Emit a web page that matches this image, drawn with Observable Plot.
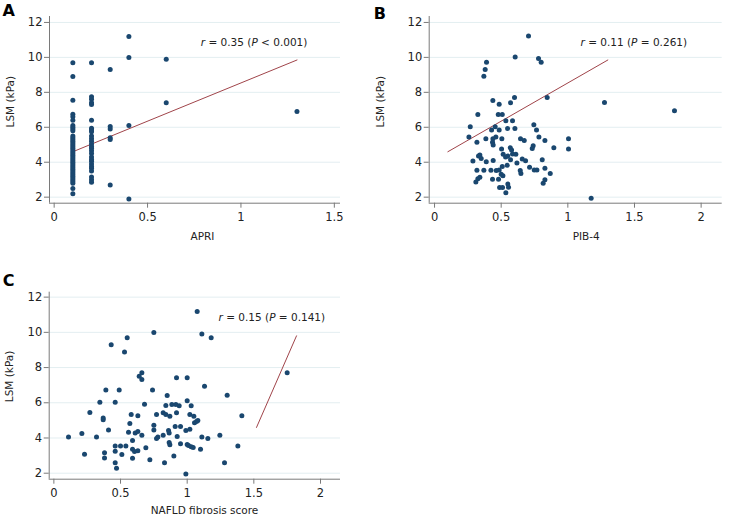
<!DOCTYPE html>
<html><head><meta charset="utf-8">
<script src="https://cdn.jsdelivr.net/npm/d3@7"></script>
<script src="https://cdn.jsdelivr.net/npm/@observablehq/plot@0.6"></script>
<style>
body{margin:0;background:#fff;}
#wrap{position:relative;width:740px;height:522px;font-family:"DejaVu Sans",Verdana,sans-serif;}
.panel{position:absolute;}
</style></head><body><div id="wrap"></div>
<script>
// ---------- data ----------
const yTicks = [2, 4, 6, 8, 10, 12];
const xTicksA = [0, 0.5, 1, 1.5];
const xTicksBC = [0, 0.5, 1, 1.5, 2];
const yLabel = "LSM (kPa)";
const xLabels = ["APRI", "PIB-4", "NAFLD fibrosis score"];
const panelLetters = ["A", "B", "C"];
const annotations = ["r = 0.35 (P < 0.001)", "r = 0.11 (P = 0.261)", "r = 0.15 (P = 0.141)"];

// Panel A: APRI values and LSM observed at each
const apriGroups = [0.1, 0.2, 0.3, 0.4, 0.6, 1.3];
const lsmByApri = [
  [9.7, 8.9, 7.55, 6.75, 6.6, 6.4, 6.1, 6.0, 5.9, 5.8, 5.5, 5.4, 5.3, 5.2, 5.1, 5.0, 4.9, 4.8, 4.7, 4.6, 4.5, 4.4, 4.3, 4.2, 4.1, 4.0, 3.9, 3.8, 3.7, 3.6, 3.5, 3.4, 3.3, 3.2, 3.1, 3.0, 2.9, 2.8, 2.5, 2.2],
  [9.7, 7.75, 7.6, 7.4, 7.3, 6.4, 5.95, 5.85, 5.75, 5.5, 5.35, 5.2, 5.05, 4.9, 4.8, 4.65, 4.5, 4.3, 4.15, 4.05, 3.9, 3.75, 3.65, 3.5, 3.15, 3.0, 2.85],
  [9.3, 6.05, 5.9, 5.4, 5.3, 2.7],
  [11.2, 10.0, 6.1, 1.9],
  [9.9, 7.4],
  [6.9]
];
const fitA = {x: [0.1, 1.3], y: [4.6, 9.85]};

// Panel B: [PIB-4, LSM]
const pointsB = [
  [0.705,11.22],[0.605,10.02],[0.78,9.93],[0.8,9.72],[0.39,9.72],[0.38,9.3],[0.37,8.92],
  [0.6,7.7],[0.845,7.7],[1.275,7.42],[1.8,6.94],
  [0.4375,7.53],[0.485,7.32],[0.57,7.41],
  [0.325,6.73],[0.478,6.73],[0.508,6.73],[0.535,6.38],[0.585,6.38],
  [0.268,6.03],[0.258,5.44],[0.318,5.15],[0.385,5.34],[0.428,5.84],[0.455,6.03],[0.485,5.84],[0.548,5.93],[0.603,5.93],
  [0.438,5.34],[0.46,5.44],[0.505,5.34],[0.435,5.15],[0.44,4.98],
  [0.745,6.14],[0.765,5.84],[0.783,5.44],[0.828,5.25],[0.645,5.34],[0.673,5.25],[0.74,4.94],[0.733,4.79],[0.895,4.83],[1.005,5.34],[1.005,4.75],
  [0.503,4.76],[0.568,4.83],[0.578,4.7],
  [0.34,4.41],[0.33,4.35],[0.288,4.07],[0.35,4.22],[0.388,4.03],[0.44,4.1],[0.515,4.45],[0.533,4.3],[0.55,4.35],[0.585,4.47],[0.61,4.45],[0.57,4.14],[0.545,3.82],[0.508,3.75],[0.485,3.56],[0.463,3.52],[0.423,3.54],[0.37,3.54],[0.318,3.54],
  [0.513,3.23],[0.48,3.02],[0.5,3.31],[0.435,3.02],[0.34,3.14],[0.325,3.06],[0.31,2.87],[0.488,2.55],[0.51,2.55],[0.555,2.57],[0.55,2.76],[0.535,2.26],
  [0.643,3.52],[0.648,3.35],[0.618,3.95],[0.683,4.08],[0.658,4.18],[0.713,3.71],[0.748,3.56],[0.768,3.56],[0.808,4.14],[0.828,3.65],[0.868,3.35],[0.828,3.0],[0.815,2.8],
  [1.175,1.94]
];
const fitB = {x: [0.1, 1.3], y: [4.6, 9.85]};

// Panel C: [NAFLD fibrosis score, LSM]
const pointsC = [
  [1.075,11.19],[0.75,9.99],[1.11,9.9],[1.18,9.69],[0.43,9.29],[0.55,9.69],[0.53,8.89],[0.66,7.7],[0.64,7.51],[0.66,7.32],
  [0.92,7.42],[1.0,7.42],[1.13,6.94],[0.39,6.73],[0.49,6.73],[0.74,6.73],[1.3,6.43],[0.345,6.03],[0.46,6.03],[0.68,5.92],
  [0.27,5.45],[0.37,5.14],[0.37,5.03],[0.41,4.46],[0.11,4.06],[0.21,4.25],[0.32,4.06],[0.23,3.08],[0.38,3.16],[0.38,2.87],
  [0.46,3.55],[0.46,3.25],[0.5,3.55],[0.54,3.55],[0.51,3.06],[0.46,2.59],[0.47,2.28],[0.58,5.33],[0.63,5.26],[0.57,4.82],
  [0.56,4.33],[0.59,3.86],[0.61,4.29],[0.63,4.37],[0.66,4.16],[0.59,3.36],[0.605,3.23],[0.63,3.27],[0.59,2.85],[0.69,3.44],
  [0.72,2.76],[0.75,4.73],[0.75,4.46],[0.77,5.33],[0.77,3.97],[0.78,4.06],[0.82,4.16],[0.83,2.59],[0.84,5.85],[0.82,5.43],
  [0.84,5.33],[0.85,6.41],[0.885,5.9],[0.915,5.9],[0.94,5.83],[0.87,5.24],[0.92,5.43],[0.86,4.42],[0.865,4.29],[0.865,3.74],
  [0.87,3.61],[0.91,4.65],[0.95,4.65],[0.925,4.08],[0.95,3.67],[0.99,4.42],[0.9,2.98],[0.99,1.96],[1.0,6.11],[1.03,5.83],
  [1.02,5.33],[1.05,5.24],[1.02,4.5],[1.0,3.63],[1.01,3.57],[1.03,3.5],[1.045,3.46],[1.055,4.86],[1.07,4.94],[1.08,5.0],
  [1.11,4.06],[1.155,3.97],[1.1,3.36],[1.245,4.16],[1.28,2.59],[1.38,3.55],[1.41,5.26],[1.75,7.7]
];
const fitC = {x: [1.52, 1.82], y: [4.6, 9.8]};

// ---------- styling ----------
const FONT = '"DejaVu Sans", Verdana, sans-serif';
const DOT = "#1a476f", LINE = "#a0444a", GRID = "#e3eef1", AXIS = "#7a7a7a", TEXT = "#222";

const pointsA = apriGroups.flatMap((x, i) => lsmByApri[i].map(y => [x, y]));

function makePanel(cfg) {
  const data = cfg.points.map(([x, y]) => ({x, y}));
  const fit = cfg.fit.x.map((x, i) => ({x, y: cfg.fit.y[i]}));
  const svg = Plot.plot({
    width: cfg.width, height: cfg.height,
    marginLeft: cfg.m[0], marginTop: cfg.m[1], marginRight: cfg.m[2], marginBottom: cfg.m[3],
    style: {fontFamily: FONT, fontSize: "11.5px", color: TEXT, background: "transparent", overflow: "visible"},
    x: {domain: cfg.xDomain},
    y: {domain: cfg.yDomain},
    marks: [
      Plot.gridY(yTicks, {stroke: GRID, strokeOpacity: 1, strokeWidth: 1}),
      Plot.ruleX([cfg.xDomain[0]], {stroke: AXIS}),
      Plot.ruleY([cfg.yDomain[0]], {stroke: AXIS}),
      Plot.axisX(cfg.xTicks, {tickSize: 5, tickPadding: 5, stroke: AXIS, label: null, tickFormat: d => String(d), fontSize: 11.5}),
      Plot.axisY(yTicks, {tickSize: 5, tickPadding: 2, stroke: AXIS, label: null, fontSize: 11.5}),
      Plot.line(fit, {x: "x", y: "y", stroke: LINE, strokeWidth: 1}),
      Plot.dot(data, {x: "x", y: "y", r: 2.5, fill: DOT}),
      Plot.text([cfg.annot], {x: cfg.annotAt[0], y: cfg.annotAt[1], text: d => d, textAnchor: "start", fontSize: 10.5, fill: TEXT}),
      Plot.text([cfg.xLabel], {frameAnchor: "bottom", text: d => d, dx: cfg.xl[0], dy: cfg.xl[1], fontSize: 10.5, fill: TEXT}),
      Plot.text([yLabel], {frameAnchor: "left", text: d => d, rotate: -90, dx: cfg.yl[0], dy: cfg.yl[1], fontSize: 10.5, fill: TEXT}),
      Plot.text([cfg.letter], {frameAnchor: "top-left", text: d => d, textAnchor: "start", lineAnchor: "bottom", dx: cfg.lt[0], dy: cfg.lt[1], fontSize: 16, fontWeight: "bold", fill: "#000"})
    ]
  });
  // italicise r and P
  for (const t of svg.querySelectorAll("text")) {
    const s = t.textContent;
    const m = s.match(/^r( = [^(]*\()P(.*)$/);
    if (m) {
      t.textContent = "";
      const parts = [["r", true], [m[1], false], ["P", true], [m[2], false]];
      for (const [txt, it] of parts) {
        const ts = document.createElementNS("http://www.w3.org/2000/svg", "tspan");
        ts.textContent = txt;
        if (it) ts.setAttribute("font-style", "italic");
        t.appendChild(ts);
      }
    }
  }
  svg.classList.add("panel");
  svg.style.left = cfg.left + "px";
  svg.style.top = cfg.top + "px";
  document.getElementById("wrap").appendChild(svg);
}

makePanel({
  points: pointsA, fit: fitA, width: 370, height: 260, left: 0, top: 0,
  m: [49, 16, 30, 57.3], xDomain: [-0.025, 1.533], yDomain: [1.655, 12.34], xTicks: xTicksA,
  annot: annotations[0], annotAt: [0.785, 10.83], xLabel: xLabels[0], xl: [7.4, 36.3], yl: [-39.2, 17.6],
  letter: panelLetters[0], lt: [-47, -1]
});
makePanel({
  points: pointsB, fit: fitB, width: 370, height: 260, left: 370, top: 0,
  m: [58.7, 16, 18.3, 57.3], xDomain: [-0.04, 2.158], yDomain: [1.655, 12.34], xTicks: xTicksBC,
  annot: annotations[1], annotAt: [1.095, 10.83], xLabel: xLabels[1], xl: [10.5, 36.3], yl: [-48.7, 17.6],
  letter: panelLetters[1], lt: [-55.5, 2]
});
makePanel({
  points: pointsC, fit: fitC, width: 370, height: 262, left: 0, top: 260,
  m: [48.7, 31.7, 30, 43.3], xDomain: [-0.035, 2.15], yDomain: [1.66, 12.28], xTicks: xTicksBC,
  annot: annotations[2], annotAt: [1.235, 10.86], xLabel: xLabels[2], xl: [9.7, 35.1], yl: [-39.4, 16.5],
  letter: panelLetters[2], lt: [-46.5, -6.7]
});
</script></body></html>
